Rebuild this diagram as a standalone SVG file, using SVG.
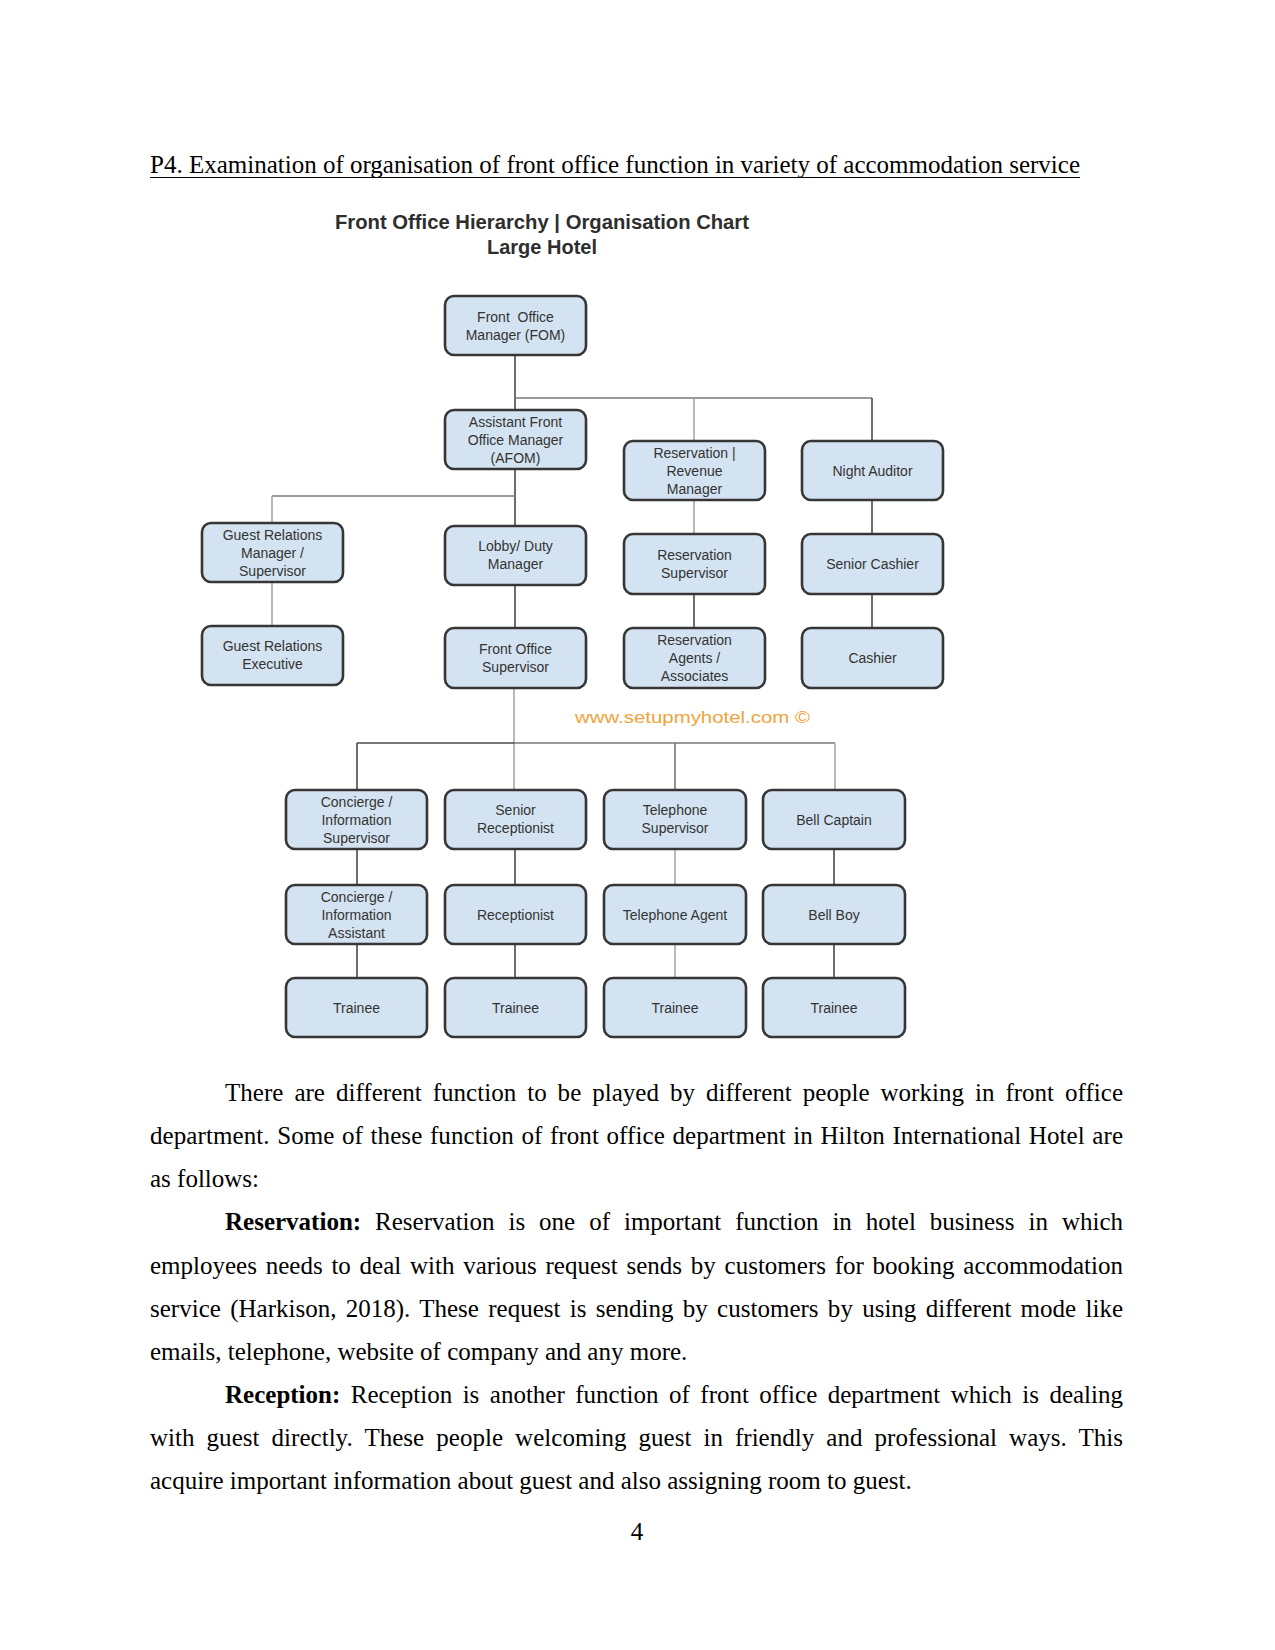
<svg xmlns="http://www.w3.org/2000/svg" width="1275" height="1650" viewBox="0 0 1275 1650">
<defs>
<style>
.bg{fill:#ffffff}
.box{fill:#d4e3f1;stroke:#363636;stroke-width:2.6}
.bt{font-family:"Liberation Sans",Arial,sans-serif;font-size:14px;fill:#333333;text-anchor:middle}
.d{stroke:#4a4a4a;stroke-width:1.6;fill:none}
.m{stroke:#777777;stroke-width:1.6;fill:none}
.l{stroke:#a8a8a8;stroke-width:1.6;fill:none}
.body{font-family:"Liberation Serif","Times New Roman",serif;font-size:25px;fill:#000000}
.ct{font-family:"Liberation Sans",Arial,sans-serif;font-size:20px;font-weight:bold;fill:#2e2e2e;text-anchor:middle}
.wm{font-family:"Liberation Sans",Arial,sans-serif;font-size:17px;fill:#f0a43c}
</style>
</defs>
<rect class="bg" x="0" y="0" width="1275" height="1650"/>

<g id="heading">
<text class="body" x="150" y="173" textLength="930" lengthAdjust="spacingAndGlyphs">P4. Examination of organisation of front office function in variety of accommodation service</text>
<line x1="150" y1="177.5" x2="1080" y2="177.5" stroke="#000" stroke-width="1.2"/>
</g>

<g id="chart-title">
<text class="ct" x="542" y="229" textLength="414" lengthAdjust="spacingAndGlyphs">Front Office Hierarchy | Organisation Chart</text>
<text class="ct" x="542" y="254" textLength="110" lengthAdjust="spacingAndGlyphs">Large Hotel</text>
</g>

<g id="connectors">
<line class="d" x1="515" y1="355" x2="515" y2="410"/>
<line class="m" x1="515" y1="398" x2="872" y2="398"/>
<line class="l" x1="694" y1="398" x2="694" y2="441"/>
<line class="d" x1="872" y1="398" x2="872" y2="441"/>
<line class="d" x1="515" y1="469" x2="515" y2="526"/>
<line class="m" x1="272" y1="496" x2="515" y2="496"/>
<line class="l" x1="272" y1="496" x2="272" y2="523"/>
<line class="l" x1="272" y1="582" x2="272" y2="626"/>
<line class="d" x1="515" y1="585" x2="515" y2="628"/>
<line class="l" x1="694" y1="500" x2="694" y2="534"/>
<line class="d" x1="694" y1="594" x2="694" y2="628"/>
<line class="d" x1="872" y1="500" x2="872" y2="534"/>
<line class="d" x1="872" y1="594" x2="872" y2="628"/>
<line class="l" x1="514" y1="688" x2="514" y2="790"/>
<line class="d" x1="357" y1="743" x2="514" y2="743"/>
<line class="m" x1="514" y1="743" x2="835" y2="743"/>
<line class="d" x1="357" y1="743" x2="357" y2="790"/>
<line class="m" x1="675" y1="743" x2="675" y2="790"/>
<line class="l" x1="835" y1="743" x2="835" y2="790"/>
<line class="d" x1="357" y1="849" x2="357" y2="885"/>
<line class="d" x1="357" y1="944" x2="357" y2="978"/>
<line class="d" x1="515" y1="849" x2="515" y2="885"/>
<line class="d" x1="515" y1="944" x2="515" y2="978"/>
<line class="l" x1="675" y1="849" x2="675" y2="885"/>
<line class="l" x1="675" y1="944" x2="675" y2="978"/>
<line class="d" x1="834" y1="849" x2="834" y2="885"/>
<line class="d" x1="834" y1="944" x2="834" y2="978"/>
</g>

<g id="fom"><rect class="box" x="445" y="296" width="141" height="59" rx="9"/>
<text class="bt" x="515.5" y="321.5" xml:space="preserve">Front  Office</text><text class="bt" x="515.5" y="339.5">Manager (FOM)</text></g>

<g id="afom"><rect class="box" x="445" y="410" width="141" height="59" rx="9"/>
<text class="bt" x="515.5" y="426.5">Assistant Front</text><text class="bt" x="515.5" y="444.5">Office Manager</text><text class="bt" x="515.5" y="462.5">(AFOM)</text></g>

<g id="res-manager"><rect class="box" x="624" y="441" width="141" height="59" rx="9"/>
<text class="bt" x="694.5" y="457.5">Reservation |</text><text class="bt" x="694.5" y="475.5">Revenue</text><text class="bt" x="694.5" y="493.5">Manager</text></g>

<g id="night-auditor"><rect class="box" x="802" y="441" width="141" height="59" rx="9"/>
<text class="bt" x="872.5" y="475.5">Night Auditor</text></g>

<g id="guest-rel-manager"><rect class="box" x="202" y="523" width="141" height="59" rx="9"/>
<text class="bt" x="272.5" y="539.5">Guest Relations</text><text class="bt" x="272.5" y="557.5">Manager /</text><text class="bt" x="272.5" y="575.5">Supervisor</text></g>

<g id="lobby-manager"><rect class="box" x="445" y="526" width="141" height="59" rx="9"/>
<text class="bt" x="515.5" y="551">Lobby/ Duty</text><text class="bt" x="515.5" y="569">Manager</text></g>

<g id="res-supervisor"><rect class="box" x="624" y="534" width="141" height="60" rx="9"/>
<text class="bt" x="694.5" y="559.5">Reservation</text><text class="bt" x="694.5" y="577.5">Supervisor</text></g>

<g id="senior-cashier"><rect class="box" x="802" y="534" width="141" height="60" rx="9"/>
<text class="bt" x="872.5" y="568.5">Senior Cashier</text></g>

<g id="guest-rel-exec"><rect class="box" x="202" y="626" width="141" height="59" rx="9"/>
<text class="bt" x="272.5" y="651">Guest Relations</text><text class="bt" x="272.5" y="669">Executive</text></g>

<g id="fo-supervisor"><rect class="box" x="445" y="628" width="141" height="60" rx="9"/>
<text class="bt" x="515.5" y="653.5">Front Office</text><text class="bt" x="515.5" y="671.5">Supervisor</text></g>

<g id="res-agents"><rect class="box" x="624" y="628" width="141" height="60" rx="9"/>
<text class="bt" x="694.5" y="644.5">Reservation</text><text class="bt" x="694.5" y="662.5">Agents /</text><text class="bt" x="694.5" y="680.5">Associates</text></g>

<g id="cashier"><rect class="box" x="802" y="628" width="141" height="60" rx="9"/>
<text class="bt" x="872.5" y="663">Cashier</text></g>

<g id="watermark"><text class="wm" x="575" y="723" textLength="235" lengthAdjust="spacingAndGlyphs">www.setupmyhotel.com ©</text></g>

<g id="concierge-sup"><rect class="box" x="286" y="790" width="141" height="59" rx="9"/>
<text class="bt" x="356.5" y="806.5">Concierge /</text><text class="bt" x="356.5" y="824.5">Information</text><text class="bt" x="356.5" y="842.5">Supervisor</text></g>

<g id="senior-receptionist"><rect class="box" x="445" y="790" width="141" height="59" rx="9"/>
<text class="bt" x="515.5" y="815">Senior</text><text class="bt" x="515.5" y="833">Receptionist</text></g>

<g id="telephone-sup"><rect class="box" x="604" y="790" width="142" height="59" rx="9"/>
<text class="bt" x="675" y="815">Telephone</text><text class="bt" x="675" y="833">Supervisor</text></g>

<g id="bell-captain"><rect class="box" x="763" y="790" width="142" height="59" rx="9"/>
<text class="bt" x="834" y="824.5">Bell Captain</text></g>

<g id="concierge-asst"><rect class="box" x="286" y="885" width="141" height="59" rx="9"/>
<text class="bt" x="356.5" y="901.5">Concierge /</text><text class="bt" x="356.5" y="919.5">Information</text><text class="bt" x="356.5" y="937.5">Assistant</text></g>

<g id="receptionist"><rect class="box" x="445" y="885" width="141" height="59" rx="9"/>
<text class="bt" x="515.5" y="919.5">Receptionist</text></g>

<g id="telephone-agent"><rect class="box" x="604" y="885" width="142" height="59" rx="9"/>
<text class="bt" x="675" y="919.5">Telephone Agent</text></g>

<g id="bell-boy"><rect class="box" x="763" y="885" width="142" height="59" rx="9"/>
<text class="bt" x="834" y="919.5">Bell Boy</text></g>

<g id="trainee-1"><rect class="box" x="286" y="978" width="141" height="59" rx="9"/>
<text class="bt" x="356.5" y="1012.5">Trainee</text></g>
<g id="trainee-2"><rect class="box" x="445" y="978" width="141" height="59" rx="9"/>
<text class="bt" x="515.5" y="1012.5">Trainee</text></g>
<g id="trainee-3"><rect class="box" x="604" y="978" width="142" height="59" rx="9"/>
<text class="bt" x="675" y="1012.5">Trainee</text></g>
<g id="trainee-4"><rect class="box" x="763" y="978" width="142" height="59" rx="9"/>
<text class="bt" x="834" y="1012.5">Trainee</text></g>

<g id="body-text">
<text class="body" x="225" y="1101" word-spacing="4.7" textLength="898" lengthAdjust="spacing">There are different function to be played by different people working in front office</text>
<text class="body" x="150" y="1144" word-spacing="1.2" textLength="973" lengthAdjust="spacing">department. Some of these function of front office department in Hilton International Hotel are</text>
<text class="body" x="150" y="1187">as follows:</text>
<text class="body" x="225" y="1230" word-spacing="7.7" textLength="898" lengthAdjust="spacing"><tspan font-weight="bold">Reservation:</tspan> Reservation is one of important function in hotel business in which</text>
<text class="body" x="150" y="1274" word-spacing="2.5" textLength="973" lengthAdjust="spacing">employees needs to deal with various request sends by customers for booking accommodation</text>
<text class="body" x="150" y="1317" word-spacing="3.0" textLength="973" lengthAdjust="spacing">service (Harkison, 2018). These request is sending by customers by using different mode like</text>
<text class="body" x="150" y="1360">emails, telephone, website of company and any more.</text>
<text class="body" x="225" y="1403" word-spacing="4.2" textLength="898" lengthAdjust="spacing"><tspan font-weight="bold">Reception:</tspan> Reception is another function of front office department which is dealing</text>
<text class="body" x="150" y="1446" word-spacing="5.75" textLength="973" lengthAdjust="spacing">with guest directly. These people welcoming guest in friendly and professional ways. This</text>
<text class="body" x="150" y="1489">acquire important information about guest and also assigning room to guest.</text>
<text class="body" x="637" y="1540" text-anchor="middle">4</text>
</g>
</svg>
